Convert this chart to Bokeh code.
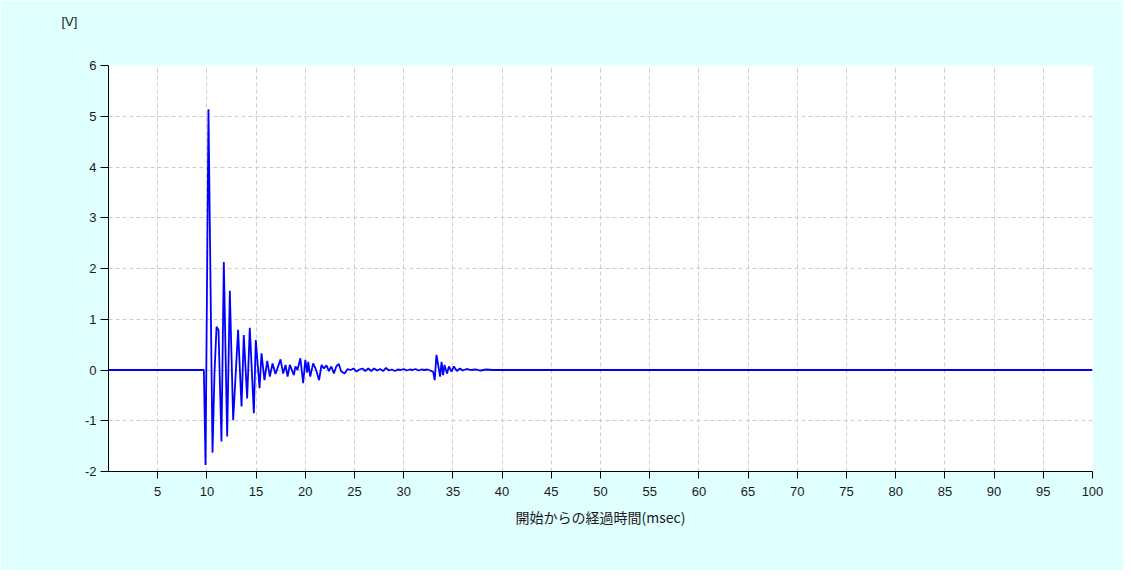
from bokeh.plotting import figure
from bokeh.models import Range1d, FixedTicker, Title
from bokeh.embed import file_html
from bokeh.resources import INLINE

# ---- data ----
time_ms = [0, 9.69, 9.86, 10.16, 10.57, 10.77, 10.98, 11.18, 11.48, 11.72, 12.06, 12.33, 12.67,
           13.17, 13.52, 13.75, 14.09, 14.36, 14.77, 14.97, 15.35, 15.55, 15.85, 16.13, 16.40,
           16.67, 16.97, 17.48, 17.75, 17.99, 18.20, 18.43, 18.84, 19.00, 19.20, 19.50, 19.78,
           20.00, 20.20, 20.30, 20.50, 20.80, 21.10, 21.40, 21.65, 21.90, 22.15, 22.40, 22.65,
           22.90, 23.15, 23.40, 23.65, 24.00, 24.30, 24.60, 24.90, 25.20, 25.50, 25.80, 26.10,
           26.40, 26.70, 27.00, 27.30, 27.60, 27.90, 28.20, 28.50, 28.80, 29.10, 29.40, 29.70,
           30.00, 30.30, 30.60, 30.90, 31.20, 31.50, 31.80, 32.10, 32.40, 32.70, 33.00, 33.15,
           33.33, 33.50, 33.70, 33.85, 34.00, 34.15, 34.40, 34.60, 34.85, 35.10, 35.40, 35.70,
           36.00, 36.40, 36.80, 37.30, 37.80, 38.40, 39.00, 40.0, 50.0, 60.0, 70.0, 80.0, 90.0, 100.0]
voltage = [0, 0, -1.87, 5.14, -1.63, -0.07, 0.85, 0.79, -1.41, 2.13, -1.31, 1.56, -0.99,
           0.79, -0.72, 0.69, -0.56, 0.83, -0.85, 0.59, -0.36, 0.33, -0.20, 0.18, -0.13,
           0.13, -0.08, 0.21, -0.07, 0.10, -0.13, 0.10, -0.10, 0.07, 0.00, 0.23, -0.26,
           0.20, -0.05, 0.16, -0.13, 0.13, 0.00, -0.20, 0.10, 0.03, 0.09, -0.02, 0.07,
           -0.07, 0.07, 0.12, -0.03, -0.07, 0.02, 0.00, 0.03, -0.03, 0.01, 0.03, -0.02,
           0.03, -0.02, 0.03, -0.01, 0.02, -0.02, 0.04, -0.01, 0.01, -0.02, 0.01, 0.00,
           0.02, -0.01, 0.01, 0.00, 0.02, -0.01, 0.01, 0.00, 0.01, -0.01, -0.04, -0.20,
           0.30, 0.10, -0.13, 0.16, -0.10, 0.10, -0.07, 0.07, -0.03, 0.07, -0.02, 0.03,
           -0.01, 0.02, 0.00, 0.01, -0.01, 0.01, 0.00, 0.00, 0.00, 0.00, 0.00, 0.00, 0.00, 0.00]
x_ticks = [5, 10, 15, 20, 25, 30, 35, 40, 45, 50, 55, 60, 65, 70, 75, 80, 85, 90, 95, 100]
y_ticks = [-2, -1, 0, 1, 2, 3, 4, 5, 6]
y_tick_labels = ["-2", "-1", "0", "1", "2", "3", "4", "5", "6"]
x_label = "開始からの経過時間(msec)"
y_unit = "[V]"

p = figure(width=1123, height=570, output_backend="svg", toolbar_location=None,
           x_range=Range1d(0, 100), y_range=Range1d(-2, 6),
           min_border_left=108, min_border_right=31, min_border_top=65, min_border_bottom=99,
           title=y_unit)
p.background_fill_color = "white"
p.border_fill_color = "#E0FFFF"
p.outline_line_color = None

p.title.align = "left"
p.title.offset = -47
p.title.standoff = 0
p.title.text_font = "Liberation Sans"
p.title.text_font_size = "13px"
p.title.text_font_style = "normal"
p.title.text_color = "#1a1a1a"

# empty spacer between the unit label and the plot frame
p.add_layout(Title(text=" ", text_font_size="1px", standoff=34), "above")

p.line(time_ms, voltage, line_color="#0000FF", line_width=1.8)

p.xaxis.ticker = FixedTicker(ticks=x_ticks)
p.yaxis.ticker = FixedTicker(ticks=y_ticks)
p.yaxis.major_label_overrides = {t: s for t, s in zip(y_ticks, y_tick_labels)}
p.xgrid.ticker = FixedTicker(ticks=x_ticks)
p.ygrid.ticker = FixedTicker(ticks=y_ticks)
for g in (p.xgrid, p.ygrid):
    g.grid_line_color = "#CCCCCC"
    g.grid_line_dash = "4 3"
    g.grid_line_width = 1

for ax in (p.xaxis, p.yaxis):
    ax.axis_line_color = "black"
    ax.major_tick_line_color = "black"
    ax.minor_tick_line_color = None
    ax.major_tick_in = 0
    ax.major_label_text_font = "Liberation Sans"
    ax.major_label_text_font_size = "13px"
    ax.major_label_text_color = "#1a1a1a"

p.xaxis.major_tick_out = 7
p.xaxis.major_label_standoff = 8
p.yaxis.major_tick_out = 8
p.yaxis.major_label_standoff = 4

p.xaxis.axis_label = x_label
p.xaxis.axis_label_text_font = "Noto Sans CJK JP"
p.xaxis.axis_label_text_font_size = "14px"
p.xaxis.axis_label_text_font_style = "normal"
p.xaxis.axis_label_text_color = "#1a1a1a"
p.xaxis.axis_label_standoff = 8

open("out.html", "w").write(file_html(p, INLINE))
